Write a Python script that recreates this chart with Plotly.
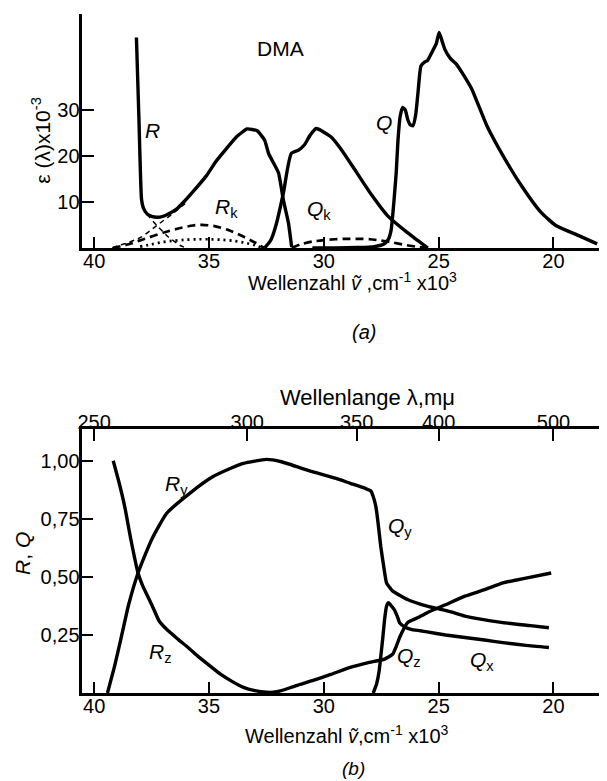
import plotly.graph_objects as go

# page offset caused by the default 8px body margin of the html page
OFF = 8
W, H = 607 - OFF, 781 - OFF
FONT = "Liberation Sans"

# ---------------- Panel (a): absorption spectrum of DMA ----------------
# wavenumber (x10^3 cm-1) and epsilon (x10^-3)
R_x = [38.16, 38.05, 37.94, 37.85, 37.69, 37.5, 37.27, 37.0, 36.77, 36.4, 36.1, 35.6, 35.1, 34.7,
       34.26, 33.8, 33.34, 32.9, 32.58, 32.4, 32.19, 31.97, 31.76, 31.54, 31.4]
R_y = [45.8, 28.0, 10.7, 8.6, 7.4, 6.9, 6.7, 6.9, 7.4, 8.5, 10.0, 12.8, 15.8, 18.8,
       21.5, 24.2, 25.9, 25.5, 23.5, 20.5, 18.5, 16.3, 10.4, 5.4, 0.2]

Qk_x = [32.58, 32.3, 32.06, 31.76, 31.41, 31.1, 30.85, 30.6, 30.33, 30.0, 29.67, 29.25, 28.58,
        27.9, 27.24, 26.4, 25.9, 25.47]
Qk_y = [0.0, 1.8, 5.4, 12.0, 20.6, 21.3, 22.4, 24.5, 26.0, 25.2, 24.1, 21.5, 16.5,
        11.4, 7.1, 3.5, 1.6, 0.0]

Q_x = [30.5, 29.5, 28.5, 27.8, 27.4, 27.2, 27.07, 26.95, 26.85, 26.77, 26.68, 26.57, 26.45, 26.35,
       26.24, 26.12, 26.0, 25.9, 25.77, 25.6, 25.48, 25.3, 25.1, 24.98, 24.85, 24.73, 24.5, 24.23,
       23.9, 23.56, 22.9, 22.2, 21.4, 20.55, 19.9, 18.9, 18.1]
Q_y = [0.0, 0.0, 0.1, 0.3, 0.8, 1.8, 3.9, 10.0, 16.3, 23.5, 28.5, 30.6, 30.0, 28.0,
       26.8, 26.6, 29.0, 33.8, 39.6, 40.5, 40.8, 42.5, 44.5, 46.9, 45.0, 43.2, 41.3, 40.0,
       37.5, 34.6, 26.6, 20.1, 13.6, 7.8, 4.9, 2.7, 0.9]

Rk_x = [39.2, 38.5, 37.8, 37.0, 36.3, 35.7, 35.3, 34.8, 34.2, 33.6, 33.0, 32.6]
Rk_y = [0.0, 0.8, 2.0, 3.3, 4.3, 4.9, 5.05, 4.8, 4.0, 2.7, 1.2, 0.0]

Rdot_x = [38.0, 37.5, 37.0, 36.5, 36.0, 35.5, 35.0, 34.5, 34.0, 33.5, 33.0, 32.7]
Rdot_y = [0.3, 0.8, 1.3, 1.6, 1.8, 1.9, 1.9, 1.8, 1.6, 1.2, 0.6, 0.1]

Rdesc_x = [37.9, 37.6, 37.27, 36.77, 36.27, 36.0]
Rdesc_y = [9.0, 6.8, 4.9, 2.4, 0.6, 0.0]

Rrise_x = [39.2, 38.95, 38.5, 37.94, 37.27, 36.6, 36.0]
Rrise_y = [0.0, 0.5, 1.2, 2.4, 4.9, 7.4, 9.8]

Qkd_x = [31.4, 31.0, 30.5, 30.0, 29.5, 29.0, 28.5, 28.0, 27.5, 27.0, 26.5, 26.0, 25.5]
Qkd_y = [0.0, 0.8, 1.4, 1.7, 1.9, 2.0, 2.0, 1.9, 1.6, 1.2, 0.7, 0.3, 0.0]

a_xticks = [40, 35, 30, 25, 20]
a_yticks = [10, 20, 30]

# ---------------- Panel (b): polarisation components ----------------
Ry_x = [39.42, 39.1, 38.84, 38.5, 38.09, 37.5, 36.84, 35.84, 34.84, 34.0, 33.5, 32.5, 31.85, 30.5,
        29.5, 28.85, 28.19, 27.95, 27.85, 27.75, 27.69, 27.6, 27.52, 27.4, 27.27, 27.1, 27.0,
        26.36, 25.5, 24.5, 23.86, 22.2, 21.0, 20.2]
Ry_y = [0.0, 0.12, 0.231, 0.38, 0.517, 0.66, 0.774, 0.86, 0.931, 0.97, 0.989, 1.006, 0.996, 0.953,
        0.925, 0.903, 0.881, 0.87, 0.846, 0.81, 0.774, 0.70, 0.631, 0.55, 0.474, 0.45, 0.439,
        0.403, 0.374, 0.35, 0.331, 0.303, 0.29, 0.281]

Rz_x = [39.17, 38.9, 38.67, 38.4, 38.09, 37.9, 37.67, 37.4, 37.17, 36.8, 36.34, 35.9, 35.5, 35.0,
        34.5, 34.0, 33.5, 33.0, 32.5, 32.2, 31.85, 31.2, 30.5, 29.7, 28.85, 28.1, 27.35, 27.0,
        26.85, 26.7, 26.5, 26.36, 25.9, 25.5, 24.7, 23.86, 23.0, 22.2, 21.2, 20.1]
Rz_y = [1.0, 0.9, 0.803, 0.66, 0.517, 0.465, 0.417, 0.36, 0.31, 0.27, 0.231, 0.195, 0.16, 0.12,
        0.081, 0.05, 0.024, 0.01, 0.003, 0.003, 0.01, 0.032, 0.053, 0.08, 0.11, 0.13, 0.146, 0.167,
        0.2, 0.239, 0.28, 0.303, 0.325, 0.346, 0.38, 0.417, 0.445, 0.474, 0.495, 0.517]

Qx_x = [27.85, 27.7, 27.6, 27.44, 27.35, 27.27, 27.19, 27.1, 26.94, 26.8, 26.7, 26.45, 26.2, 25.8,
        25.5, 24.7, 23.86, 23.0, 22.2, 21.2, 20.2]
Qx_y = [0.0, 0.04, 0.089, 0.231, 0.32, 0.374, 0.389, 0.38, 0.36, 0.33, 0.303, 0.283, 0.274, 0.268,
        0.263, 0.25, 0.239, 0.228, 0.217, 0.205, 0.196]

b_yticks = [0.25, 0.50, 0.75, 1.00]
b_yticklabels = ["0,25", "0,50", "0,75", "1,00"]
wavelength_ticks = [250, 300, 350, 400, 500]  # m\u03bc

XR = [40.55, 17.67]

fig = go.Figure()

def add(x, y, xa, ya, width=3.4, dash="solid", smooth=0.6):
    fig.add_trace(go.Scatter(x=x, y=y, xaxis=xa, yaxis=ya, mode="lines",
                             line=dict(color="black", width=width, dash=dash,
                                       shape="spline", smoothing=smooth),
                             hoverinfo="skip", showlegend=False))

# panel a
add(R_x, R_y, "x", "y", smooth=0.4)
add(Qk_x, Qk_y, "x", "y")
add(Q_x, Q_y, "x", "y", smooth=0.5)
add(Rk_x, Rk_y, "x", "y", width=2.7, dash="8px,5px")
add(Rdot_x, Rdot_y, "x", "y", width=2.7, dash="2px,4px")
add(Rdesc_x, Rdesc_y, "x", "y", width=1.5, dash="5px,4px")
add(Rrise_x, Rrise_y, "x", "y", width=1.5, dash="5px,4px")
add(Qkd_x, Qkd_y, "x", "y", width=2.7, dash="8px,5px")

# panel b
add(Ry_x, Ry_y, "x2", "y2", smooth=0.5)
add(Rz_x, Rz_y, "x2", "y2", smooth=0.5)
add(Qx_x, Qx_y, "x2", "y2", smooth=0.5)

# invisible trace so that the top wavelength axis is drawn
fig.add_trace(go.Scatter(x=[30], y=[0.5], xaxis="x3", yaxis="y2", mode="markers",
                         marker=dict(opacity=0), hoverinfo="skip", showlegend=False))

tickfont = dict(family=FONT, size=20, color="black")
axcommon = dict(showgrid=False, zeroline=False, showline=True, linecolor="black", linewidth=3,
                ticks="inside", tickcolor="black", tickwidth=2, tickfont=tickfont)

def ydom(top_px, bot_px):
    return [1 - (bot_px - OFF) / H, 1 - (top_px - OFF) / H]

xdom = [(78 - OFF) / W, 1.0]
fig.update_layout(
    width=W, height=H,
    margin=dict(l=0, r=0, t=0, b=0),
    paper_bgcolor="white", plot_bgcolor="white",
    showlegend=False,
    xaxis=dict(domain=xdom, range=XR, anchor="y", tickvals=a_xticks, ticklen=11,
               ticklabelstandoff=-7, **axcommon),
    yaxis=dict(domain=ydom(14, 248), range=[0, 50.9], anchor="x",
               tickvals=a_yticks, ticklen=12, ticklabelstandoff=-5, **axcommon),
    xaxis2=dict(domain=xdom, range=XR, anchor="y2", tickvals=a_xticks, ticklen=11,
                ticklabelstandoff=-7, **axcommon),
    yaxis2=dict(domain=ydom(429, 693), range=[0, 1.137], anchor="x2",
                tickvals=b_yticks, ticktext=b_yticklabels, ticklen=11,
                ticklabelstandoff=-5, **axcommon),
    xaxis3=dict(overlaying="x2", anchor="y2", side="top", range=XR,
                tickvals=[1e4 / l for l in wavelength_ticks],
                ticktext=[str(l) for l in wavelength_ticks], ticklen=12,
                ticklabelstandoff=-11, **axcommon),
)

def px(x, y, text, size=21, angle=0):
    fig.add_annotation(x=(x - OFF) / W, y=1 - (y - OFF) / H, xref="paper", yref="paper",
                       text=text, showarrow=False, textangle=angle,
                       xanchor="center", yanchor="middle",
                       font=dict(family=FONT, size=size, color="black"))

def dat(x, y, text, xa, ya, size=21):
    fig.add_annotation(x=x, y=y, xref=xa, yref=ya, text=text, showarrow=False,
                       xanchor="center", yanchor="middle",
                       font=dict(family=FONT, size=size, color="black"))

# titles
px(351, 281, "Wellenzahl <i>\u1e7d</i> ,cm<sup>-1</sup> x10<sup>3</sup>", size=20)
px(362, 332, "<i>(a)</i>", size=20)
px(37, 140, "\u03b5 (\u03bb)x10<sup>-3</sup>", angle=-90)
px(345, 734, "Wellenzahl <i>\u1e7d</i>,cm<sup>-1</sup> x10<sup>3</sup>", size=20)
px(366, 398, "Wellenlange \u03bb,m\u03bc", size=22)
px(352, 768, "<i>(b)</i>", size=19)
px(18, 553, "<i>R</i>, <i>Q</i>", angle=-90)

# curve labels panel a
dat(31.9, 43.5, "DMA", "x", "y")
dat(37.44, 25.6, "<i>R</i>", "x", "y")
dat(34.25, 8.7, "<i>R</i><sub>k</sub>", "x", "y")
dat(30.2, 8.3, "<i>Q</i><sub>k</sub>", "x", "y")
dat(27.37, 27.4, "<i>Q</i>", "x", "y")

# curve labels panel b
dat(36.4, 0.896, "<i>R</i><sub>y</sub>", "x2", "y2")
dat(37.1, 0.174, "<i>R</i><sub>z</sub>", "x2", "y2")
dat(26.7, 0.717, "<i>Q</i><sub>y</sub>", "x2", "y2")
dat(26.3, 0.153, "<i>Q</i><sub>z</sub>", "x2", "y2")
dat(23.1, 0.139, "<i>Q</i><sub>x</sub>", "x2", "y2")

fig.write_html("out.html")
